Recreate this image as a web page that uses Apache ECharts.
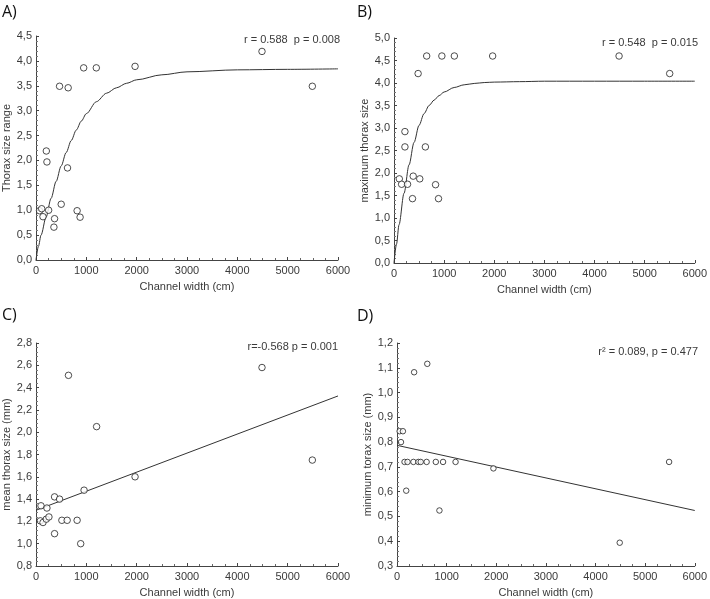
<!DOCTYPE html>
<html><head><meta charset="utf-8">
<script src="https://cdn.jsdelivr.net/npm/echarts@6/dist/echarts.min.js"></script>
<style>html,body{margin:0;padding:0;background:#fff}#c{width:710px;height:599px}</style>
</head><body><div id="c"></div>
<script>
// ---- Panel A: thorax size range ----
const aX = [70, 113, 139, 205, 217, 251, 356, 369, 468, 501, 626, 639, 817, 876, 947, 1198, 1968, 4490, 5490];
const aY = [0.99, 1.03, 0.87, 2.19, 1.97, 1.00, 0.66, 0.83, 3.49, 1.12, 1.85, 3.46, 0.99, 0.86, 3.86, 3.86, 3.89, 4.19, 3.49];
const aCurveX = [0, 50, 100, 200, 300, 400, 500, 600, 700, 800, 900, 1000, 1200, 1400, 1600, 1800, 2000, 2500, 3000, 4000, 5000, 6000];
const aCurveY = [0, 0.28, 0.50, 0.86, 1.24, 1.58, 1.89, 2.16, 2.40, 2.61, 2.79, 2.94, 3.18, 3.35, 3.46, 3.55, 3.62, 3.72, 3.78, 3.82, 3.83, 3.84];
// ---- Panel B: maximum thorax size ----
const bX = [106, 152, 218, 218, 270, 383, 369, 481, 514, 626, 652, 829, 888, 955, 1204, 1968, 4490, 5500];
const bY = [1.87, 1.75, 2.92, 2.58, 1.75, 1.93, 1.43, 4.21, 1.87, 2.58, 4.60, 1.74, 1.43, 4.60, 4.60, 4.60, 4.60, 4.21];
const bCurveX = [0, 50, 100, 200, 300, 400, 500, 600, 700, 800, 900, 1000, 1200, 1400, 1600, 1800, 2000, 2500, 3000, 4000, 5000, 6000];
const bCurveY = [0, 0.42, 0.85, 1.55, 2.18, 2.68, 3.06, 3.32, 3.50, 3.62, 3.72, 3.80, 3.90, 3.96, 3.99, 4.01, 4.02, 4.03, 4.04, 4.04, 4.04, 4.04];
// ---- Panel C: mean thorax size ----
const cX = [99, 86, 139, 217, 205, 257, 369, 369, 468, 514, 619, 645, 817, 888, 955, 1204, 1968, 4490, 5490];
const cY = [1.34, 1.205, 1.19, 1.32, 1.22, 1.24, 1.42, 1.09, 1.40, 1.21, 1.21, 2.51, 1.21, 1.00, 1.48, 2.05, 1.60, 2.58, 1.75];
const cLineX = [0, 6000];
const cLineY = [1.30, 2.325];
// ---- Panel D: minimum torax size ----
const dX = [53, 119, 80, 152, 212, 331, 431, 477, 597, 782, 928, 1180, 186, 855, 345, 610, 1943, 4488, 5483];
const dY = [0.844, 0.844, 0.80, 0.72, 0.72, 0.72, 0.72, 0.72, 0.72, 0.72, 0.72, 0.72, 0.604, 0.524, 1.082, 1.116, 0.694, 0.394, 0.72];
const dLineX = [0, 6000];
const dLineY = [0.787, 0.524];

const panels = [
  {label:'A)', yName:'Thorax size range', ymin:0, ymax:4.5, yint:0.5, note:'r = 0.588  p = 0.008',
   px:aX, py:aY, lx:aCurveX, ly:aCurveY, smooth:true, sym:6.5},
  {label:'B)', yName:'maximum thorax size', ymin:0, ymax:5.0, yint:0.5, note:'r = 0.548  p = 0.015',
   px:bX, py:bY, lx:bCurveX, ly:bCurveY, smooth:true, sym:6.5},
  {label:'C)', yName:'mean thorax size (mm)', ymin:0.8, ymax:2.8, yint:0.2, note:'r=-0.568 p = 0.001',
   px:cX, py:cY, lx:cLineX, ly:cLineY, smooth:false, sym:6.5},
  {label:'D)', yName:'minimum torax size (mm)', ymin:0.3, ymax:1.2, yint:0.1, note:'r² = 0.089, p = 0.477',
   px:dX, py:dY, lx:dLineX, ly:dLineY, smooth:false, sym:5.5}
];
const grids = [
  {left:34, top:36, width:304, height:224},
  {left:394, top:38, width:304, height:225},
  {left:34, top:343, width:304, height:225},
  {left:397, top:343, width:301, height:226}
];
const labelPos = [[2,4],[357,4],[2,307],[357,308]];
const notePos = [[340,34],[698,37],[338,341],[698,346]];
const font = "'Liberation Sans', Arial, sans-serif";
const txt = '#3a3a3a';

const option = {
  animation:false,
  backgroundColor:'#fff',
  grid: grids,
  xAxis: panels.map((p,i)=>({
    type:'value', gridIndex:i, min:0, max:6000, interval:1000,
    name:'Channel width (cm)', nameLocation:'middle', nameGap:21,
    nameTextStyle:{fontFamily:font, fontSize:11, color:txt},
    axisLine:{show:true, lineStyle:{color:'#444', width:1}},
    axisTick:{show:true, inside:true, length:3, lineStyle:{color:'#444'}},
    minorTick:{show:true, splitNumber:4, length:2, lineStyle:{color:'#666'}},
    splitLine:{show:false},
    axisLabel:{fontFamily:font, fontSize:11, color:txt, margin:5, formatter:v=>String(v)}
  })),
  yAxis: panels.map((p,i)=>({
    type:'value', gridIndex:i, min:p.ymin, max:p.ymax, interval:p.yint,
    name:p.yName, nameLocation:'middle', nameGap:24,
    nameTextStyle:{fontFamily:font, fontSize:11, color:txt},
    axisLine:{show:true, onZero:false, lineStyle:{color:'#444', width:1}},
    axisTick:{show:true, inside:true, length:3, lineStyle:{color:'#444'}},
    minorTick:{show:true, splitNumber:5, length:2, lineStyle:{color:'#777'}},
    splitLine:{show:false},
    axisLabel:{fontFamily:font, fontSize:11, color:txt, margin:4,
      formatter:v=>v.toFixed(1).replace('.',',')}
  })),
  series: [].concat(...panels.map((p,i)=>[
    {type:'line', xAxisIndex:i, yAxisIndex:i, data:p.lx.map((x,k)=>[x,p.ly[k]]),
     showSymbol:false, smooth:p.smooth ? 0.3 : false, smoothMonotone:'x',
     lineStyle:{color:'#333', width:1}, z:2},
    {type:'scatter', xAxisIndex:i, yAxisIndex:i, data:p.px.map((x,k)=>[x,p.py[k]]),
     symbol:'circle', symbolSize:p.sym,
     itemStyle:{color:'#fff', borderColor:'#222', borderWidth:1}, z:3}
  ])),
  graphic: [].concat(
    panels.map((p,i)=>({type:'text', left:labelPos[i][0], top:labelPos[i][1],
      style:{text:p.label, font:'16px "Open Sans", sans-serif', fill:'#111'}})),
    panels.map((p,i)=>({type:'text', x:notePos[i][0], y:notePos[i][1],
      style:{text:p.note, font:"11px 'Liberation Sans', Arial, sans-serif", fill:txt, align:'right', verticalAlign:'top'}}))
  )
};
const chart = echarts.init(document.getElementById('c'), null, {renderer:'canvas'});
chart.setOption(option);
</script>
</body></html>
